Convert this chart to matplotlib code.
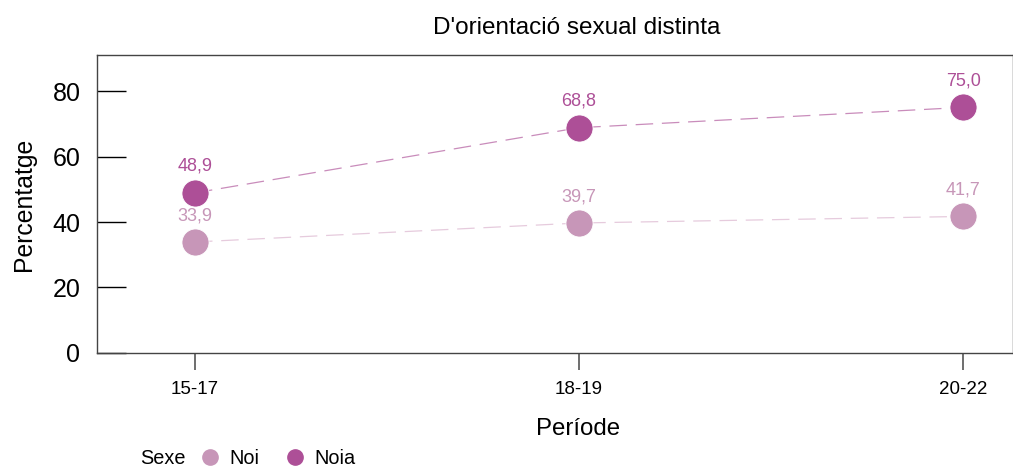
import numpy as np
import matplotlib.pyplot as plt
from matplotlib.lines import Line2D

plt.rcParams['font.family'] = ['Liberation Sans', 'DejaVu Sans']

periodes = ['15-17', '18-19', '20-22']
noi = [33.9, 39.7, 41.7]
noia = [48.9, 68.8, 75.0]

col_noi = '#c796b8'
col_noia = '#ad4f97'

fig = plt.figure(figsize=(10.13, 4.66), dpi=100)
ax = fig.add_axes([0.0958, 0.2425, 0.9042, 0.6395])

x = np.arange(len(periodes))
for vals, col, lcol in [(noi, col_noi, '#e6cbdd'), (noia, col_noia, '#c98cbb')]:
    ax.plot(x, vals, color=lcol, lw=0.9, dashes=(14, 7), zorder=1)
    ax.plot(x, vals, 'o', color=col, ms=19.5, mec='white', mew=0.6, zorder=2)
    for xi, v in zip(x, vals):
        ax.annotate(f'{v:.1f}'.replace('.', ','), (xi, v), xytext=(0, 19),
                    textcoords='offset points', ha='center', va='center',
                    color=col, fontsize=13)

ax.set_xlim(-0.255, 2.13)
ax.set_ylim(0, 91)
ax.set_xticks(x)
ax.set_xticklabels(periodes, fontsize=13.5)
ax.set_yticks([0, 20, 40, 60, 80])
ax.tick_params(axis='y', direction='in', length=21, width=1, labelsize=18, pad=12)
ax.tick_params(axis='x', direction='out', length=12, width=1.2, color='#555555', pad=8)
for s in ax.spines.values():
    s.set_color('#444444')
    s.set_linewidth(1)

ax.set_title("D'orientació sexual distinta", fontsize=17.5, pad=15, x=0.524)
ax.set_ylabel('Percentatge', fontsize=17.8, labelpad=12)
ax.set_xlabel('Període', fontsize=17.3)
ax.xaxis.set_label_coords(0.525, -0.218)

fig.text(0.138, 0.017, 'Sexe', fontsize=14.3, va='center')
handles = [Line2D([], [], ls='', marker='o', color=col_noi, ms=11, label='Noi'),
           Line2D([], [], ls='', marker='o', color=col_noia, ms=11, label='Noia')]
fig.legend(handles=handles, ncol=2, loc='center left', bbox_to_anchor=(0.1974, 0.017),
           frameon=False, fontsize=14.3, handletextpad=0.5, columnspacing=1.25,
           handlelength=1.0, borderpad=0, borderaxespad=0)

fig.savefig('out.png', dpi=100)
